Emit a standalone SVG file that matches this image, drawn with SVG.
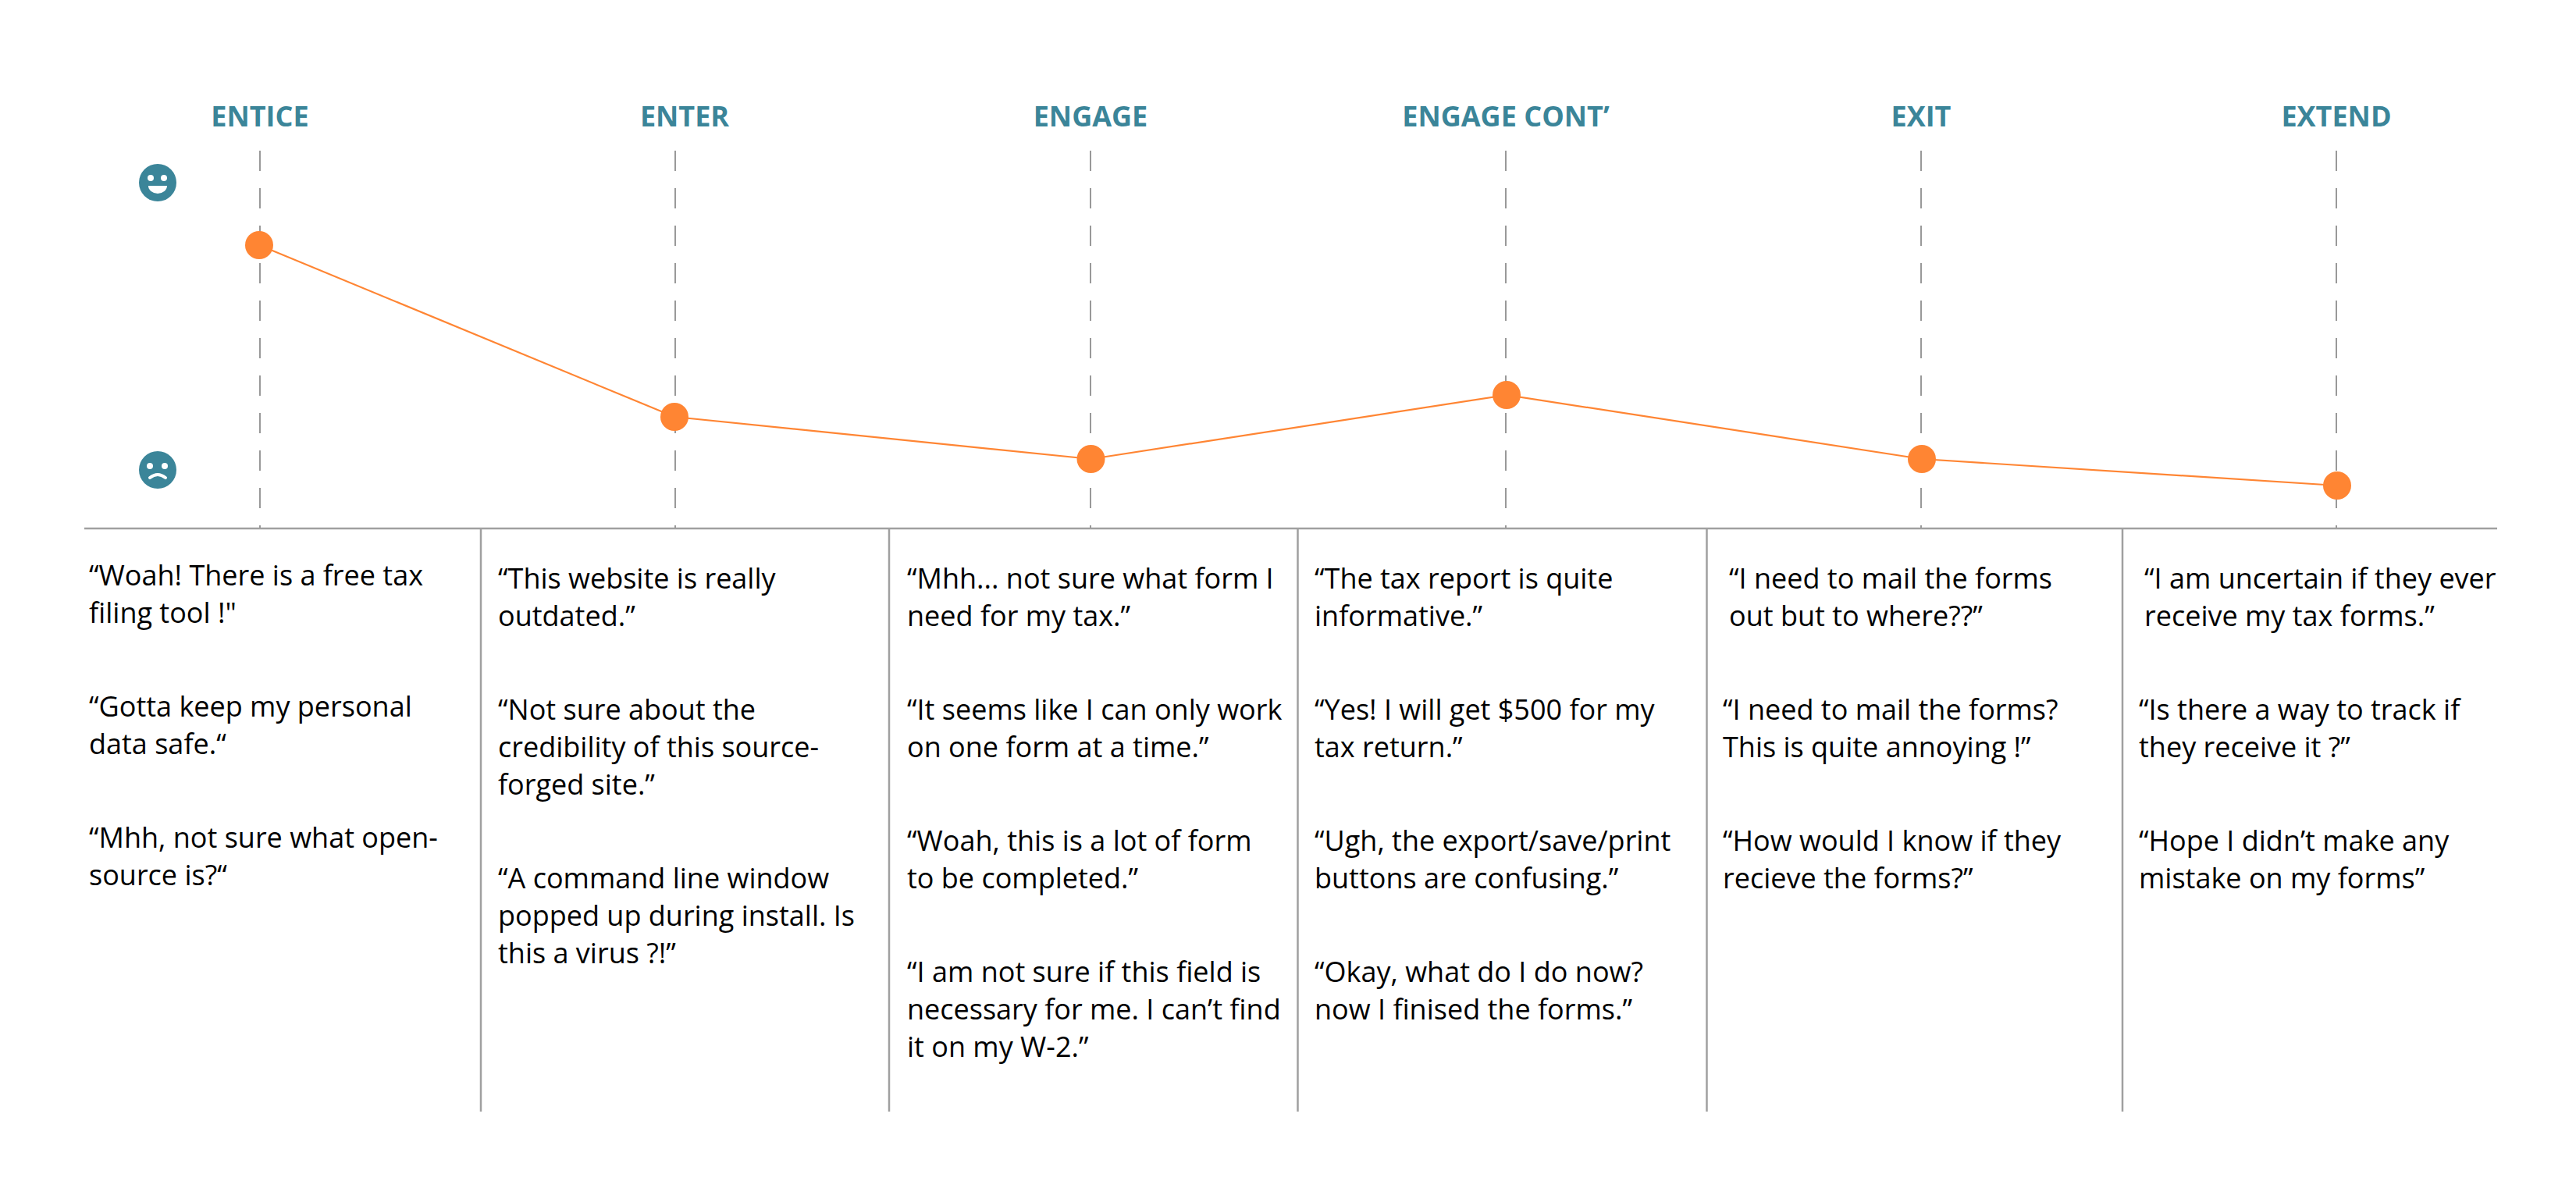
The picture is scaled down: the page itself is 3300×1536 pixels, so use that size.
<svg xmlns="http://www.w3.org/2000/svg" width="3300" height="1536" viewBox="0 0 3300 1536">
<style>
.h{font:700 36px "Open Sans",sans-serif;fill:#3b8599;text-anchor:middle}
.t{font:400 36px "Open Sans",sans-serif;fill:#000}
.d{stroke:#999;stroke-width:2;stroke-dasharray:26 22;fill:none}
.r{stroke:#a0a0a0;stroke-width:2.5;fill:none}
.p{fill:#ff8533}
.f{fill:#3b8599}
</style>
<rect width="3300" height="1536" fill="#fff"/>
<g id="guides">
<path class="d" d="M333 193V677M865 193V677M1397 193V677M1929 193V677M2461 193V677M2993 193V677"/>
</g>
<g id="rules">
<path class="r" d="M108 677H3199M616 677V1424M1139 677V1424M1662.500 677V1424M2186.500 677V1424M2719 677V1424"/>
</g>
<g id="connectors">
<polyline fill="none" stroke="#ff8533" stroke-width="2.2" points="332,314 864,534 1397.500,588 1930,506 2462,588 2994,622"/>
</g>
<g id="happy"><circle class="f" cx="202" cy="234" r="24"/><circle cx="193" cy="228" r="4" fill="#fff"/><circle cx="210" cy="228" r="4" fill="#fff"/><path d="M190 238h24a12 10 0 0 1-24 0z" fill="#fff"/></g>
<g id="sad"><circle class="f" cx="202" cy="602" r="24"/><circle cx="192" cy="597" r="4" fill="#fff"/><circle cx="211" cy="597" r="4" fill="#fff"/><path d="M192 612q10-8 20 0" fill="none" stroke="#fff" stroke-width="4" stroke-linecap="round"/></g>
<g id="p1"><circle class="p" cx="332" cy="314" r="18"/></g>
<g id="p2"><circle class="p" cx="864" cy="534" r="18"/></g>
<g id="p3"><circle class="p" cx="1397.500" cy="588" r="18"/></g>
<g id="p4"><circle class="p" cx="1930" cy="506" r="18"/></g>
<g id="p5"><circle class="p" cx="2462" cy="588" r="18"/></g>
<g id="p6"><circle class="p" cx="2994" cy="622" r="18"/></g>
<g id="heads">
<text class="h" x="333" y="162">ENTICE</text><text class="h" x="877" y="162">ENTER</text><text class="h" x="1397" y="162">ENGAGE</text><text class="h" x="1929" y="162">ENGAGE CONT’</text><text class="h" x="2461" y="162">EXIT</text><text class="h" x="2993" y="162">EXTEND</text>
</g>
<g id="c1" class="t"><text x="114" y="750">“Woah! There is a free tax</text><text x="114" y="798">filing tool !"</text><text x="114" y="918">“Gotta keep my personal</text><text x="114" y="966">data safe.“</text><text x="114" y="1086">“Mhh, not sure what open-</text><text x="114" y="1134">source is?“</text></g>
<g id="c2" class="t"><text x="638" y="754">“This website is really</text><text x="638" y="802">outdated.”</text><text x="638" y="922">“Not sure about the</text><text x="638" y="970">credibility of this source-</text><text x="638" y="1018">forged site.”</text><text x="638" y="1138">“A command line window</text><text x="638" y="1186">popped up during install. Is</text><text x="638" y="1234">this a virus ?!”</text></g>
<g id="c3" class="t"><text x="1162" y="754">“Mhh... not sure what form I</text><text x="1162" y="802">need for my tax.”</text><text x="1162" y="922">“It seems like I can only work</text><text x="1162" y="970">on one form at a time.”</text><text x="1162" y="1090">“Woah, this is a lot of form</text><text x="1162" y="1138">to be completed.”</text><text x="1162" y="1258">“I am not sure if this field is</text><text x="1162" y="1306">necessary for me. I can’t find</text><text x="1162" y="1354">it on my W-2.”</text></g>
<g id="c4" class="t"><text x="1684" y="754">“The tax report is quite</text><text x="1684" y="802">informative.”</text><text x="1684" y="922">“Yes! I will get $500 for my</text><text x="1684" y="970">tax return.”</text><text x="1684" y="1090">“Ugh, the export/save/print</text><text x="1684" y="1138">buttons are confusing.”</text><text x="1684" y="1258">“Okay, what do I do now?</text><text x="1684" y="1306">now I finised the forms.”</text></g>
<g id="c5" class="t"><text x="2215" y="754">“I need to mail the forms</text><text x="2215" y="802">out but to where??”</text><text x="2207" y="922">“I need to mail the forms?</text><text x="2207" y="970">This is quite annoying !”</text><text x="2207" y="1090">“How would I know if they</text><text x="2207" y="1138">recieve the forms?”</text></g>
<g id="c6" class="t"><text x="2747" y="754">“I am uncertain if they ever</text><text x="2747" y="802">receive my tax forms.”</text><text x="2740" y="922">“Is there a way to track if</text><text x="2740" y="970">they receive it ?”</text><text x="2740" y="1090">“Hope I didn’t make any</text><text x="2740" y="1138">mistake on my forms”</text></g>
</svg>
